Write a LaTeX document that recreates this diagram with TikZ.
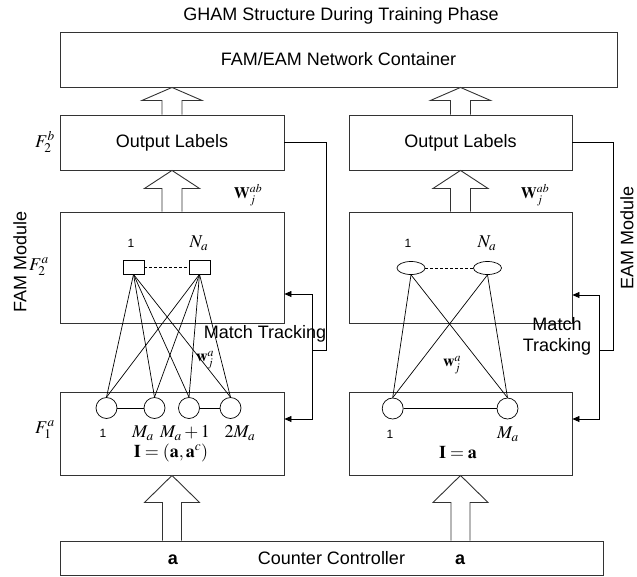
\documentclass[tikz,border=0pt]{standalone}
\usepackage{mathptmx}
\usepackage[no-math]{fontspec}
\setmainfont{Liberation Sans}
\usetikzlibrary{calc,arrows.meta,shapes.geometric}
\newcommand\blockarrow[5]{%
  \draw[blk] ($(#1)+(-#5,0)$) -- ($(#2)+(-#5,#3)$) -- ($(#2)+(-#4,#3)$) -- (#2)
    -- ($(#2)+(#4,#3)$) -- ($(#2)+(#5,#3)$) -- ($(#1)+(#5,0)$);}
\begin{document}
\begin{tikzpicture}[x=1pt,y=-1pt,
  box/.style={draw=black!80, line width=0.9pt, inner sep=0, font=\fontsize{18}{20}\selectfont},
  lbl/.style={font=\fontsize{18}{21}\selectfont, inner sep=0},
  mth/.style={font=\fontsize{18}{20}\selectfont, inner sep=0},
  wlbl/.style={font=\fontsize{16}{18}\selectfont, inner sep=0},
  small/.style={font=\fontsize{12}{13}\selectfont, inner sep=0},
  wire/.style={draw=black, line width=0.7pt},
  fb/.style={draw=black, line width=0.7pt},
  arr/.style={fb, -{Triangle[length=7pt,width=6pt]}},
  blk/.style={draw=black!80, line width=0.9pt, fill=white},
  neuron/.style={circle, draw=black, line width=0.7pt, minimum size=21pt, inner sep=0},
  sq/.style={rectangle, draw=black, line width=0.7pt, minimum width=21pt, minimum height=14pt, inner sep=0},
  ell/.style={ellipse, draw=black, line width=0.7pt, minimum width=28pt, minimum height=13pt, inner sep=0},
  dots/.style={draw=black, line width=0.7pt, dash pattern=on 3pt off 2pt}]
\useasboundingbox (0,0) rectangle (637,576);

% title
\node[lbl] (title) at (341,16) {GHAM Structure During Training Phase};

% boxes
\node[box, minimum width=557pt, minimum height=55pt] (cont) at (338.5,59.5) {FAM/EAM Network Container};
\node[box, minimum width=224pt, minimum height=55pt] (outL) at (172,142.5) {Output Labels};
\node[box, minimum width=223pt, minimum height=55pt] (outR) at (460.5,142.5) {Output Labels};
\node[box, minimum width=224pt, minimum height=111pt] (famL) at (172,267.5) {};
\node[box, minimum width=223pt, minimum height=111pt] (famR) at (460.5,267.5) {};
\node[box, minimum width=224pt, minimum height=83pt] (f1L) at (172,433.5) {};
\node[box, minimum width=223pt, minimum height=83pt] (f1R) at (460.5,433.5) {};
\node[box, minimum width=543pt, minimum height=34pt] (ctrl) at (331.5,558) {Counter Controller};

% block arrows
\blockarrow{outL.north}{outL.north |- cont.south}{13}{30}{10}
\blockarrow{outR.north}{outR.north |- cont.south}{13}{30}{10}
\blockarrow{famL.north}{outL.south}{18}{27.5}{10}
\blockarrow{famR.north}{outR.south}{18}{27.5}{10}
\blockarrow{f1L.south |- ctrl.north}{f1L.south}{27}{27.5}{9.5}
\blockarrow{f1R.south |- ctrl.north}{f1R.south}{27}{27.5}{9.5}

% side labels
\node[lbl, rotate=90] (famlab) at (20,262) {FAM Module};
\node[lbl, rotate=90] (eamlab) at (627,238) {EAM Module};
\node[mth] (f2b) at (45,142) {$F_2^b$};
\node[mth] (f2a) at (39,267) {$F_2^a$};
\node[mth] (f1a) at (45,430) {$F_1^a$};
\node[wlbl] (wabL) at (248,195) {$\mathbf{W}_j^{ab}$};
\node[wlbl] (wabR) at (535,195) {$\mathbf{W}_j^{ab}$};

% left FAM neurons
\node[sq] (s1) at (133.5,267) {};
\node[sq] (s2) at (199.5,267) {};
\draw[dots] (s1) -- (s2);
\node[small] (s1lab) at (131,243) {1};
\node[mth] (s2lab) at (199,243) {$N_a$};
\node[neuron] (c1) at (106.5,408) {};
\node[neuron] (c2) at (154.5,408) {};
\node[neuron] (c3) at (189,408) {};
\node[neuron] (c4) at (230.5,408) {};
\draw[wire] (c1) -- (c2);
\draw[wire] (c3) -- (c4);
\foreach \s in {s1,s2}{\foreach \c in {c1,c2,c3,c4}{\draw[wire] (\s.south) -- (\c.north);}}
\node[small] (c1lab) at (103,433) {1};
\node[mth] (c2lab) at (143,433) {$M_a$};
\node[mth] (c3lab) at (185,433) {$M_a+1$};
\node[mth] (c4lab) at (240,433) {$2M_a$};
\node[mth] (inL) at (171,453) {$\mathbf{I}=(\mathbf{a},\mathbf{a}^c)$};
\node[wlbl] (waL) at (205,360) {$\mathbf{w}_j^a$};

% right EAM neurons
\node[ell] (e1) at (411,268) {};
\node[ell] (e2) at (487.5,268) {};
\draw[dots] (e1) -- (e2);
\node[small] (e1lab) at (408,243) {1};
\node[mth] (e2lab) at (487,243) {$N_a$};
\node[neuron] (r1) at (392.7,408.5) {};
\node[neuron] (r2) at (507.5,408.5) {};
\draw[wire] (r1) -- (r2);
\foreach \s in {e1,e2}{\foreach \c in {r1,r2}{\draw[wire] (\s.south) -- (\c.north);}}
\node[small] (r1lab) at (390,434) {1};
\node[mth] (r2lab) at (508,434) {$M_a$};
\node[mth] (inR) at (458,453) {$\mathbf{I}=\mathbf{a}$};
\node[wlbl] (waR) at (452,365) {$\mathbf{w}_j^a$};

% counter controller inputs
\node[lbl, font=\fontsize{18}{20}\selectfont\bfseries] (aL) at (173,560) {a};
\node[lbl, font=\fontsize{18}{20}\selectfont\bfseries] (aR) at (460,560) {a};

% match tracking feedback
\coordinate (mL) at (312,350);
\coordinate (tL1) at (312,294);
\coordinate (tL2) at (312,419);
\draw[fb] (outL.east) -- ++(42,0) |- (mL);
\draw[arr] (mL) -- (tL1) -- (famL.east |- tL1);
\draw[arr] (mL) -- (tL2) -- (f1L.east |- tL2);
\coordinate (mR) at (599,350);
\coordinate (tR1) at (599,295);
\coordinate (tR2) at (599,419);
\draw[fb] (outR.east) -- ++(41,0) |- (mR);
\draw[arr] (mR) -- (tR1) -- (famR.east |- tR1);
\draw[arr] (mR) -- (tR2) -- (f1R.east |- tR2);
\node[lbl] (mtL) at (265,334) {Match Tracking};
\node[lbl, align=center] (mtR) at (557,336.5) {Match\\Tracking};
\end{tikzpicture}
\end{document}
